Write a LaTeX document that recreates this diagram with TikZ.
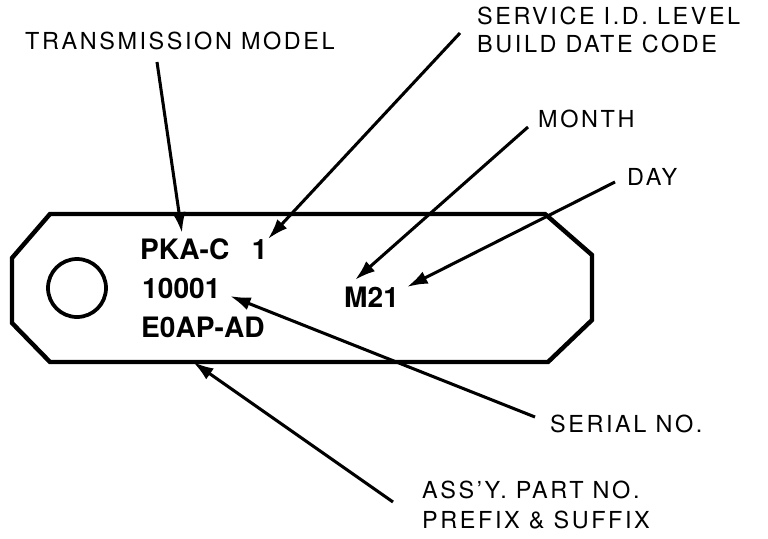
\documentclass[tikz,border=0pt]{standalone}
\usepackage{fontspec}
\setmainfont{TeX Gyre Heros}
\usepackage{tikz}
\usetikzlibrary{arrows.meta, positioning, calc}

\begin{document}
\begin{tikzpicture}[x=0.03cm, y=-0.03cm,
    label/.style={anchor=base west, inner sep=0pt, font=\fontsize{20}{24}\selectfont\addfontfeature{LetterSpace=11}},
    stamp/.style={anchor=base west, inner sep=0pt, font=\fontsize{24}{28}\selectfont\bfseries},
    pointer/.style={line width=2.6pt, -{Latex[length=0.62cm, width=0.4cm]}}]
        \useasboundingbox (0,0) rectangle (768,538);

        % Tag outline and hole
        \draw[line width=3.8pt, line join=miter] (50,214) -- (545,214) -- (592,255) -- (592,320) -- (548,362)
            -- (50,362) -- (12,323) -- (12,258) -- cycle;
        \node[circle, draw, line width=3.2pt, minimum size=1.74cm, inner sep=0pt] (hole) at (77,288) {};

        % Stamped text
        \node[stamp] (model) at (140,259) {PKA-C\hspace{0.8em}1};
        \node[stamp] (serial) at (142,298) {10001};
        \node[stamp] (part) at (141,337) {E0AP-AD};
        \node[stamp] (date) at (344,307) {M21};

        % Labels
        \node[label] (tmodel) at (25,50) {TRANSMISSION MODEL};
        \node[label] (svc) at (477,25) {SERVICE I.D. LEVEL};
        \node[label] (build) at (477,53) {BUILD DATE CODE};
        \node[label] (month) at (538,127) {MONTH};
        \node[label] (day) at (627,185) {DAY};
        \node[label] (serno) at (550,432) {SERIAL NO.};
        \node[label] (assy) at (422,498) {ASS'Y. PART NO.};
        \node[label] (fix) at (422,528) {PREFIX \& SUFFIX};

        % Arrow ends
        \coordinate (tmodel-a) at (157,62);   \coordinate (model-a) at (182,233);
        \coordinate (svc-a) at (460,33);      \coordinate (model-b) at (268,239);
        \coordinate (month-a) at (528,127);   \coordinate (date-a) at (355,280);
        \coordinate (day-a) at (615,182);     \coordinate (date-b) at (407,287);
        \coordinate (serno-a) at (535,417);   \coordinate (serial-a) at (230,296);
        \coordinate (assy-a) at (393,502);    \coordinate (part-a) at (193,362);

        % Pointers
        \draw[pointer] (tmodel-a) -- (model-a);
        \draw[pointer] (svc-a) -- (model-b);
        \draw[pointer] (month-a) -- (date-a);
        \draw[pointer] (day-a) -- (date-b);
        \draw[pointer] (serno-a) -- (serial-a);
        \draw[pointer] (assy-a) -- (part-a);
    \end{tikzpicture}
\end{document}
